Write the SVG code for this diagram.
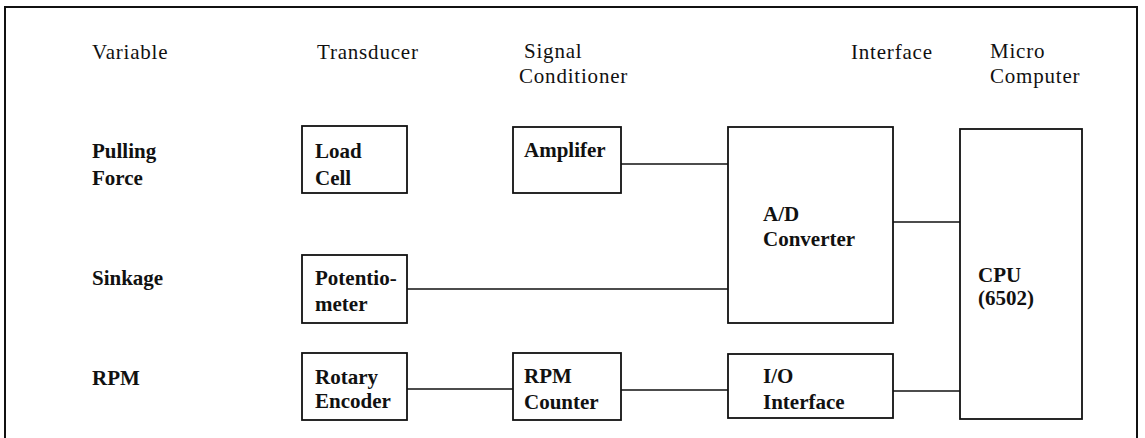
<svg xmlns="http://www.w3.org/2000/svg" width="1145" height="438" viewBox="0 0 1145 438">
  <style>
    .frame { fill: none; stroke: #111; stroke-width: 2; }
    .box { fill: #fff; stroke: #111; stroke-width: 1.8; }
    .wire { fill: none; stroke: #111; stroke-width: 1.6; }
    .hd { font-weight: normal; letter-spacing: 0.8px; }
    .lb { font-weight: bold; }
  </style>
  <rect width="1145" height="438" fill="#fff"/>

  <!-- outer frame (open at the bottom edge) -->
  <path class="frame" d="M5,445 V7 H1137 V445"/>

  <g font-family="Liberation Serif, Times New Roman, serif" font-size="21" fill="#111">
    <!-- column headings -->
    <g id="headings" class="hd">
      <text x="92" y="59">Variable</text>
      <text x="317" y="59">Transducer</text>
      <text x="524" y="58">Signal</text>
      <text x="519" y="83">Conditioner</text>
      <text x="851" y="59">Interface</text>
      <text x="990" y="58">Micro</text>
      <text x="990" y="83">Computer</text>
    </g>

    <!-- measured variables -->
    <g id="var-pulling" class="lb">
      <text x="92" y="158">Pulling</text>
      <text x="92" y="185">Force</text>
    </g>
    <g id="var-sinkage" class="lb">
      <text x="92" y="285">Sinkage</text>
    </g>
    <g id="var-rpm" class="lb">
      <text x="92" y="385">RPM</text>
    </g>

    <!-- connectors -->
    <g id="connectors">
      <line class="wire" x1="621" y1="164" x2="728" y2="164"/>
      <line class="wire" x1="407" y1="289" x2="728" y2="289"/>
      <line class="wire" x1="893" y1="222" x2="960" y2="222"/>
      <line class="wire" x1="407" y1="389" x2="513" y2="389"/>
      <line class="wire" x1="621" y1="390" x2="728" y2="390"/>
      <line class="wire" x1="893" y1="391" x2="960" y2="391"/>
    </g>

    <!-- blocks -->
    <g id="load-cell">
      <rect class="box" x="302" y="126" width="105" height="67"/>
      <text class="lb" x="315" y="158">Load</text>
      <text class="lb" x="315" y="185">Cell</text>
    </g>
    <g id="amplifier">
      <rect class="box" x="513" y="127" width="108" height="66"/>
      <text class="lb" x="524" y="157">Amplifer</text>
    </g>
    <g id="ad-converter">
      <rect class="box" x="728" y="127" width="165" height="196"/>
      <text class="lb" x="763" y="221">A/D</text>
      <text class="lb" x="763" y="246">Converter</text>
    </g>
    <g id="cpu">
      <rect class="box" x="960" y="129" width="122" height="290"/>
      <text class="lb" x="978" y="282">CPU</text>
      <text class="lb" x="978" y="305">(6502)</text>
    </g>
    <g id="potentiometer">
      <rect class="box" x="302" y="255" width="105" height="68"/>
      <text class="lb" x="315" y="285">Potentio-</text>
      <text class="lb" x="315" y="311">meter</text>
    </g>
    <g id="rotary-encoder">
      <rect class="box" x="302" y="353" width="105" height="67"/>
      <text class="lb" x="315" y="384">Rotary</text>
      <text class="lb" x="315" y="408">Encoder</text>
    </g>
    <g id="rpm-counter">
      <rect class="box" x="513" y="353" width="108" height="67"/>
      <text class="lb" x="524" y="383">RPM</text>
      <text class="lb" x="524" y="409">Counter</text>
    </g>
    <g id="io-interface">
      <rect class="box" x="728" y="354" width="165" height="64"/>
      <text class="lb" x="763" y="383">I/O</text>
      <text class="lb" x="763" y="409">Interface</text>
    </g>
  </g>
</svg>
